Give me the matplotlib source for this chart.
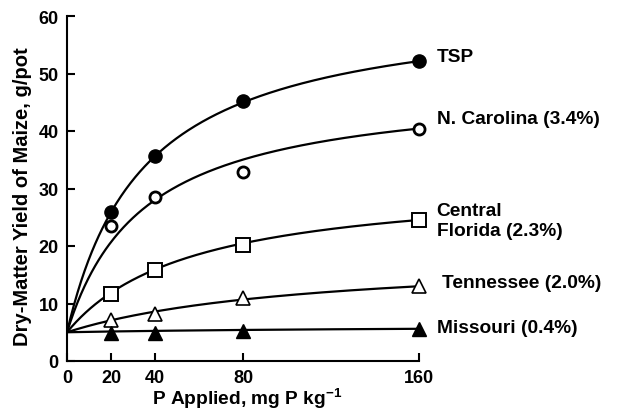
import numpy as np
import matplotlib
matplotlib.use("Agg")
from matplotlib import pyplot as plt

plt.rcParams["font.family"] = ["Liberation Sans", "DejaVu Sans"]
plt.rcParams["font.weight"] = "bold"
plt.rcParams["axes.labelweight"] = "bold"
plt.rcParams["mathtext.fontset"] = "custom"
plt.rcParams["mathtext.rm"] = "Liberation Sans:bold"
plt.rcParams["mathtext.default"] = "rm"

# P rates (mg P/kg) and dry-matter yield (g/pot) for each phosphate source
p_rates = [20, 40, 80, 160]
sources = ["TSP", "N. Carolina (3.4%)", "Central\nFlorida (2.3%)",
           "Tennessee (2.0%)", "Missouri (0.4%)"]
yield_tsp = [25.9, 35.6, 45.3, 52.2]
yield_nc = [23.4, 28.5, 32.9, 40.4]
yield_cf = [11.6, 15.9, 20.2, 24.5]
yield_tn = [7.1, 8.2, 11.0, 13.0]
yield_mo = [4.9, 4.9, 5.2, 5.6]

# fitted response y = y0 + a*P/(b + P), y0 = yield without P
control_yield = 5.0
fit_a = [57.5, 43.2, 26.5, 13.5, 1.2]
fit_b = [35.1, 35.1, 57.1, 110.0, 160.0]

x_ticks = [0, 20, 40, 80, 160]
y_ticks = [0, 10, 20, 30, 40, 50, 60]

series = [yield_tsp, yield_nc, yield_cf, yield_tn, yield_mo]
markers = [
    dict(marker="o", ms=9.5, mfc="black", mec="black"),
    dict(marker="o", ms=8, mfc="white", mec="black", mew=2),
    dict(marker="s", ms=10.5, mfc="white", mec="black", mew=1.4),
    dict(marker="^", ms=10, mfc="white", mec="black", mew=1.2),
    dict(marker="^", ms=10, mfc="black", mec="black"),
]
label_pos = [(168, 53.0), (168, 42.1), (168, 24.4), (170.5, 13.7), (168, 5.9)]

fig = plt.figure(figsize=(6.17, 4.10), dpi=100)
ax = fig.add_axes([67 / 617, 48 / 410, 352 / 617, 345 / 410])

p_fine = np.linspace(0, 160, 300)
for ys, a, b, mk, name, (lx, ly) in zip(series, fit_a, fit_b, markers,
                                         sources, label_pos):
    ax.plot(p_fine, control_yield + a * p_fine / (b + p_fine),
            color="black", lw=1.6, zorder=2)
    ax.plot(p_rates, ys, ls="none", zorder=3, clip_on=False, **mk)
    ax.text(lx, ly, name, fontsize=13.8, ha="left", va="center",
            linespacing=1.2, clip_on=False)

ax.set_xlim(0, 160)
ax.set_ylim(0, 60)
ax.set_xticks(x_ticks)
ax.set_yticks(y_ticks)
ax.spines[["top", "right"]].set_visible(False)
for side in ["left", "bottom"]:
    ax.spines[side].set_linewidth(1.5)
ax.tick_params(direction="in", length=6, width=1.5, labelsize=13, pad=6)

ax.set_xlabel("P Applied, mg P kg$^{-1}$", fontsize=13.8)
ax.xaxis.set_label_coords(0.511, -0.072)
ax.set_ylabel("Dry-Matter Yield of Maize, g/pot", fontsize=14.5)
ax.yaxis.set_label_coords(-0.099, 0.48)

fig.savefig("out.png", dpi=100)
